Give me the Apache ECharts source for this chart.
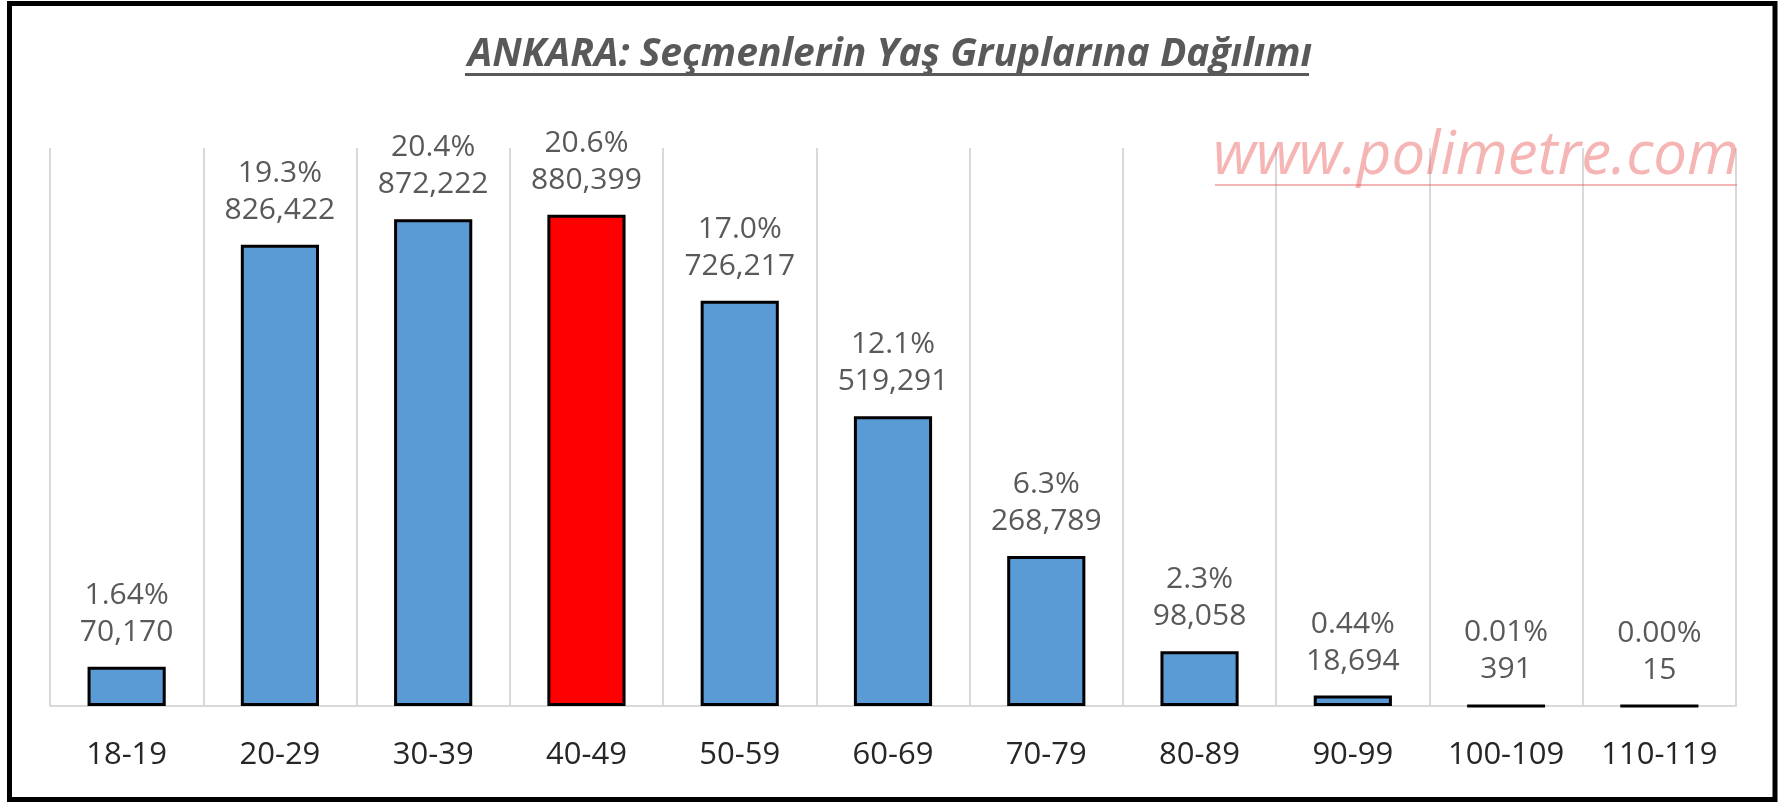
<!DOCTYPE html>
<html>
<head>
<meta charset="utf-8">
<script src="https://cdn.jsdelivr.net/npm/echarts@6/dist/echarts.min.js"></script>
<style>
  html, body { margin: 0; padding: 0; background: #fff; }
  #chart { width: 1780px; height: 802px; }
</style>
</head>
<body>
<div id="chart"></div>
<script>
// yaş grupları
const ageGroups = ['18-19', '20-29', '30-39', '40-49', '50-59', '60-69', '70-79', '80-89', '90-99', '100-109', '110-119']
const voters = [70170, 826422, 872222, 880399, 726217, 519291, 268789, 98058, 18694, 391, 15]
const shares = ['1.64%', '19.3%', '20.4%', '20.6%', '17.0%', '12.1%', '6.3%', '2.3%', '0.44%', '0.01%', '0.00%']
const highlightIndex = 3 // 40-49 kırmızı

const chart = echarts.init(document.getElementById('chart'))

const option = {
  animation: false,
  backgroundColor: '#fff',
  title: {
    text: 'ANKARA: Seçmenlerin Yaş Gruplarına Dağılımı',
    left: 'center',
    top: 30,
    textStyle: {
      color: '#595959',
      fontFamily: 'Open Sans',
      fontStyle: 'italic',
      fontWeight: 'bold',
      fontSize: 39
    }
  },
  grid: { left: 50, right: 44, top: 148, bottom: 96 },
  xAxis: {
    type: 'category',
    data: ageGroups,
    axisTick: { show: false },
    axisLine: { lineStyle: { color: '#d9d9d9', width: 2 } },
    splitLine: { show: true, interval: 0, lineStyle: { color: '#d9d9d9', width: 2 } },
    axisLabel: {
      interval: 0,
      margin: 34,
      color: '#262626',
      fontFamily: 'Open Sans',
      fontSize: 31
    }
  },
  yAxis: {
    type: 'value',
    min: 0,
    max: 1000000,
    show: false,
    splitLine: { show: false }
  },
  series: [
    {
      type: 'bar',
      barWidth: '51%',
      data: voters.map((v, i) => ({
        value: v,
        itemStyle: { color: i === highlightIndex ? '#ff0000' : '#5b9bd5' }
      })),
      itemStyle: { borderColor: '#000', borderWidth: 3 },
      label: {
        show: true,
        position: 'top',
        distance: 16,
        color: '#595959',
        fontFamily: 'Open Sans',
        fontSize: 30,
        lineHeight: 37,
        formatter: p => shares[p.dataIndex] + '\n' + voters[p.dataIndex].toLocaleString('en-US')
      }
    }
  ],
  graphic: [
    // başlık alt çizgisi
    {
      type: 'rect',
      shape: { x: 465, y: 73, width: 844, height: 3 },
      style: { fill: '#595959' },
      silent: true
    },
    {
      type: 'text',
      left: 1213,
      top: 127,
      style: {
        text: 'www.polimetre.com',
        fill: 'rgba(235, 90, 90, 0.45)',
        fontFamily: 'Open Sans',
        fontStyle: 'italic',
        fontSize: 60
      },
      silent: true,
      z: 10
    },
    {
      type: 'rect',
      shape: { x: 1215, y: 184, width: 522, height: 2 },
      style: { fill: 'rgba(235, 90, 90, 0.45)' },
      silent: true,
      z: 10
    },
    // çerçeve
    {
      type: 'rect',
      shape: { x: 9.5, y: 3.5, width: 1765.5, height: 796 },
      style: { fill: 'none', stroke: '#000', lineWidth: 5 },
      silent: true,
      z: 20
    }
  ]
}
chart.setOption(option)
</script>
</body>
</html>
